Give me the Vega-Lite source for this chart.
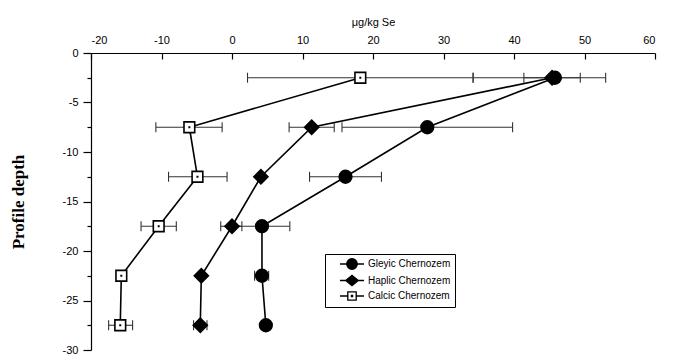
{
  "$schema": "https://vega.github.io/schema/vega-lite/v6.json",
  "width": 564,
  "height": 297,
  "autosize": {"type": "none"},
  "padding": {"left": 91, "top": 53, "right": 19, "bottom": 6},
  "background": "white",
  "config": {
    "view": {"stroke": null},
    "font": "Liberation Sans",
    "axis": {"grid": false, "domainColor": "black", "tickColor": "black", "labelColor": "black", "titleColor": "black"},
    "legend": {
      "title": null,
      "orient": "none",
      "legendX": 234,
      "legendY": 201,
      "strokeColor": "black",
      "fillColor": "white",
      "padding": 4,
      "rowPadding": 0.5,
      "symbolSize": 110,
      "symbolOffset": 17,
      "symbolOpacity": 1,
      "symbolStrokeWidth": 1.3,
      "labelOffset": 10,
      "labelFont": "Liberation Sans",
      "labelFontSize": 10,
      "labelColor": "black"
    }
  },
  "data": {
    "values": [
      {"series": "Gleyic Chernozem", "depth": -2.5, "value": 45.8, "lo": 34.2, "hi": 53},
      {"series": "Gleyic Chernozem", "depth": -7.5, "value": 27.7, "lo": 15.6, "hi": 39.8},
      {"series": "Gleyic Chernozem", "depth": -12.5, "value": 16.1, "lo": 11.0, "hi": 21.2},
      {"series": "Gleyic Chernozem", "depth": -17.5, "value": 4.25, "lo": 0.3, "hi": 8.2},
      {"series": "Gleyic Chernozem", "depth": -22.5, "value": 4.25, "lo": 3.2, "hi": 5.2},
      {"series": "Gleyic Chernozem", "depth": -27.5, "value": 4.8, "lo": null, "hi": null},
      {"series": "Haplic Chernozem", "depth": -2.5, "value": 45.4, "lo": 41.4, "hi": 49.4},
      {"series": "Haplic Chernozem", "depth": -7.5, "value": 11.3, "lo": 8.1, "hi": 14.5},
      {"series": "Haplic Chernozem", "depth": -12.5, "value": 4.1, "lo": null, "hi": null},
      {"series": "Haplic Chernozem", "depth": -17.5, "value": 0.0, "lo": -1.6, "hi": 1.4},
      {"series": "Haplic Chernozem", "depth": -22.5, "value": -4.35, "lo": null, "hi": null},
      {"series": "Haplic Chernozem", "depth": -27.5, "value": -4.5, "lo": -5.45, "hi": -3.55},
      {"series": "Calcic Chernozem", "depth": -2.5, "value": 18.2, "lo": 2.2, "hi": 34.2},
      {"series": "Calcic Chernozem", "depth": -7.5, "value": -6.05, "lo": -10.8, "hi": -1.4},
      {"series": "Calcic Chernozem", "depth": -12.5, "value": -4.9, "lo": -9.0, "hi": -0.7},
      {"series": "Calcic Chernozem", "depth": -17.5, "value": -10.4, "lo": -12.9, "hi": -7.9},
      {"series": "Calcic Chernozem", "depth": -22.5, "value": -15.7, "lo": null, "hi": null},
      {"series": "Calcic Chernozem", "depth": -27.5, "value": -15.85, "lo": -17.5, "hi": -14.1}
    ]
  },
  "encoding": {
    "y": {
      "field": "depth",
      "type": "quantitative",
      "scale": {"domain": [-30, 0], "nice": false, "zero": false},
      "axis": {
        "orient": "left",
        "title": "Profile depth",
        "titleFont": "Liberation Serif",
        "titleFontWeight": "bold",
        "titleFontSize": 17,
        "titleX": -64,
        "titleBaseline": "bottom",
        "values": [0, -2.5, -5, -7.5, -10, -12.5, -15, -17.5, -20, -22.5, -25, -27.5, -30],
        "labelExpr": "datum.value % 5 === 0 ? '' + datum.value : ''",
        "labelFontSize": 11,
        "labelPadding": 5,
        "tickSize": {"condition": {"test": "datum.value % 5 === 0", "value": 8}, "value": 4},
        "domainWidth": 1.2,
        "tickWidth": 1.2
      }
    }
  },
  "layer": [
    {
      "transform": [{"filter": "datum.lo != null"}],
      "mark": {"type": "rule", "color": "#333", "strokeWidth": 1.1},
      "encoding": {
        "x": {
          "field": "lo",
          "type": "quantitative",
          "scale": {"domain": [-20, 60], "nice": false, "zero": false},
          "axis": {
            "orient": "top",
            "title": "μg/kg Se",
            "titleFontSize": 11,
            "titleFontWeight": "normal",
            "titlePadding": 7,
            "values": [-20, -15, -10, -5, 0, 5, 10, 15, 20, 25, 30, 35, 40, 45, 50, 55, 60],
            "labelExpr": "datum.value % 10 === 0 ? '' + datum.value : ''",
            "labelFontSize": 11,
            "labelPadding": 14,
            "tickSize": {"condition": {"test": "datum.value % 10 === 0", "value": -6}, "value": -3.5},
            "domainWidth": 1.2,
            "tickWidth": 1.2
          }
        },
        "x2": {"field": "hi"}
      }
    },
    {
      "transform": [{"filter": "datum.lo != null"}],
      "mark": {"type": "point", "shape": "M0,-1L0,1", "size": 100, "stroke": "#333", "strokeWidth": 1.1, "filled": false, "opacity": 1},
      "encoding": {
        "x": {"field": "lo", "type": "quantitative", "title": "μg/kg Se"}
      }
    },
    {
      "transform": [{"filter": "datum.lo != null"}],
      "mark": {"type": "point", "shape": "M0,-1L0,1", "size": 100, "stroke": "#333", "strokeWidth": 1.1, "filled": false, "opacity": 1},
      "encoding": {
        "x": {"field": "hi", "type": "quantitative", "title": "μg/kg Se"}
      }
    },
    {
      "mark": {"type": "line", "color": "black", "strokeWidth": 1.6},
      "encoding": {
        "x": {"field": "value", "type": "quantitative", "title": "μg/kg Se"},
        "detail": {"field": "series"},
        "order": {"field": "depth", "type": "quantitative"}
      }
    },
    {
      "mark": {"type": "point", "filled": true, "stroke": "black", "strokeWidth": 1.6, "opacity": 1},
      "encoding": {
        "x": {"field": "value", "type": "quantitative", "title": "μg/kg Se"},
        "shape": {
          "condition": [
            {"test": "datum.series === 'Haplic Chernozem'", "value": "diamond"},
            {"test": "datum.series === 'Calcic Chernozem'", "value": "square"}
          ],
          "value": "circle"
        },
        "size": {
          "condition": [
            {"test": "datum.series === 'Haplic Chernozem'", "value": 200},
            {"test": "datum.series === 'Calcic Chernozem'", "value": 115}
          ],
          "value": 160
        },
        "fill": {"condition": {"test": "datum.series === 'Calcic Chernozem'", "value": "white"}, "value": "black"}
      }
    },
    {
      "transform": [{"filter": "datum.series === 'Calcic Chernozem'"}],
      "mark": {"type": "square", "size": 4, "color": "black", "opacity": 1},
      "encoding": {
        "x": {"field": "value", "type": "quantitative", "title": "μg/kg Se"}
      }
    },
    {
      "mark": {"type": "point", "filled": true, "strokeWidth": 1.3, "opacity": 0},
      "encoding": {
        "x": {"field": "value", "type": "quantitative", "title": "μg/kg Se"},
        "shape": {
          "field": "series",
          "type": "nominal",
          "scale": {
            "domain": ["Gleyic Chernozem", "Haplic Chernozem", "Calcic Chernozem"],
            "range": [
              "M-2.3,0H-1M1,0H2.3M-1,0A1,1 0 1,0 1,0A1,1 0 1,0 -1,0Z",
              "M-2.3,0H-1.2M1.2,0H2.3M-1.2,0L0,-1L1.2,0L0,1Z",
              "M-2.3,0H-0.8M0.8,0H2.3M-0.8,-0.8H0.8V0.8H-0.8ZM-0.1,-0.1H0.1V0.1H-0.1Z"
            ]
          }
        },
        "fill": {
          "field": "series",
          "type": "nominal",
          "scale": {
            "domain": ["Gleyic Chernozem", "Haplic Chernozem", "Calcic Chernozem"],
            "range": ["black", "black", "white"]
          }
        },
        "stroke": {
          "field": "series",
          "type": "nominal",
          "scale": {
            "domain": ["Gleyic Chernozem", "Haplic Chernozem", "Calcic Chernozem"],
            "range": ["black", "black", "black"]
          }
        }
      }
    }
  ]
}
